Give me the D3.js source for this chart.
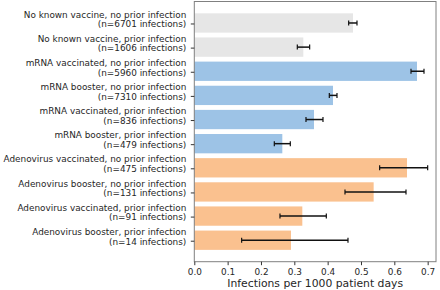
<!DOCTYPE html>
<html><head><meta charset="utf-8">
<script src="https://cdn.jsdelivr.net/npm/d3@7/dist/d3.min.js"></script>
<style>body{margin:0;background:#fff}svg{display:block}text{font-family:"DejaVu Sans",sans-serif;fill:#262626}</style>
</head><body>
<script>
const labelLine1 = ["No known vaccine, no prior infection","No known vaccine, prior infection","mRNA vaccinated, no prior infection","mRNA booster, no prior infection","mRNA vaccinated, prior infection","mRNA booster, prior infection","Adenovirus vaccinated, no prior infection","Adenovirus booster, no prior infection","Adenovirus vaccinated, prior infection","Adenovirus booster, prior infection"];
const labelLine2 = ["(n=6701 infections)","(n=1606 infections)","(n=5960 infections)","(n=7310 infections)","(n=836 infections)","(n=479 infections)","(n=475 infections)","(n=131 infections)","(n=91 infections)","(n=14 infections)"];
const rates = [0.476,0.327,0.668,0.416,0.359,0.264,0.638,0.538,0.324,0.290];
const ciLow = [0.463,0.309,0.650,0.405,0.335,0.240,0.556,0.452,0.257,0.142];
const ciHigh = [0.488,0.346,0.689,0.428,0.386,0.288,0.700,0.635,0.396,0.461];
const groups = ["none","none","mrna","mrna","mrna","mrna","adeno","adeno","adeno","adeno"];
const xTicks = [0,0.1,0.2,0.3,0.4,0.5,0.6,0.7];
const xTitle = "Infections per 1000 patient days";

const W=440,H=290;
const m={l:194.3,r:436,t:1.5,b:261.7};
const colors={none:"#e6e6e6",mrna:"#9dc3e6",adeno:"#fac18f"};
const svg=d3.select("body").append("svg").attr("width",W).attr("height",H);
const x=d3.scaleLinear().domain([0,0.725]).range([m.l,m.r]);
const idx=d3.range(rates.length);
const yc=d3.scaleLinear().domain([-0.89,9.89]).range([m.t,m.b]);
const bh=yc(0.4)-yc(-0.4);

svg.append("g").selectAll("rect").data(idx).join("rect")
 .attr("x",x(0)).attr("y",i=>yc(i)-bh/2).attr("width",i=>x(rates[i])-x(0)).attr("height",bh)
 .attr("fill",i=>colors[groups[i]]);

const eb=svg.append("g").attr("stroke","#111").attr("stroke-width",1.5);
eb.selectAll("line.h").data(idx).join("line").attr("class","h")
 .attr("x1",i=>x(ciLow[i])).attr("x2",i=>x(ciHigh[i])).attr("y1",i=>yc(i)).attr("y2",i=>yc(i));
eb.selectAll("line.c1").data(idx).join("line").attr("class","c1").attr("stroke-width",1.2)
 .attr("x1",i=>x(ciLow[i])).attr("x2",i=>x(ciLow[i])).attr("y1",i=>yc(i)-2.5).attr("y2",i=>yc(i)+2.5);
eb.selectAll("line.c2").data(idx).join("line").attr("class","c2").attr("stroke-width",1.2)
 .attr("x1",i=>x(ciHigh[i])).attr("x2",i=>x(ciHigh[i])).attr("y1",i=>yc(i)-2.5).attr("y2",i=>yc(i)+2.5);

// frame
svg.append("rect").attr("x",m.l).attr("y",m.t).attr("width",m.r-m.l).attr("height",m.b-m.t)
 .attr("fill","none").attr("stroke","#808080").attr("stroke-width",1);

// x axis
const xa=svg.append("g").attr("transform",`translate(0,${m.b})`)
 .call(d3.axisBottom(x).tickValues(xTicks).tickFormat(d3.format(".1f")).tickSize(3.5).tickPadding(3));
xa.select(".domain").remove();
xa.selectAll("line").attr("stroke","#333");
xa.selectAll("text").attr("font-size","8.9px").attr("font-family","DejaVu Sans").attr("fill","#262626");

// y ticks and labels
const yg=svg.append("g");
yg.selectAll("line").data(idx).join("line").attr("x1",m.l-3.5).attr("x2",m.l)
 .attr("y1",i=>yc(i)+1).attr("y2",i=>yc(i)+1).attr("stroke","#333");
const lt=yg.selectAll("text").data(idx).join("text").attr("text-anchor","end").attr("font-size","8.9px")
 .attr("x",m.l-8);
lt.append("tspan").attr("x",m.l-8).attr("y",i=>yc(i)-8.5).attr("dy","0.35em").text(i=>labelLine1[i]);
lt.append("tspan").attr("x",m.l-8).attr("y",i=>yc(i)+1.2).attr("dy","0.35em").text(i=>labelLine2[i]);

svg.append("text").attr("x",(m.l+m.r)/2).attr("y",283.5).attr("dy","0.35em").attr("text-anchor","middle")
 .attr("font-size","10.8px").text(xTitle);
</script>
</body></html>
